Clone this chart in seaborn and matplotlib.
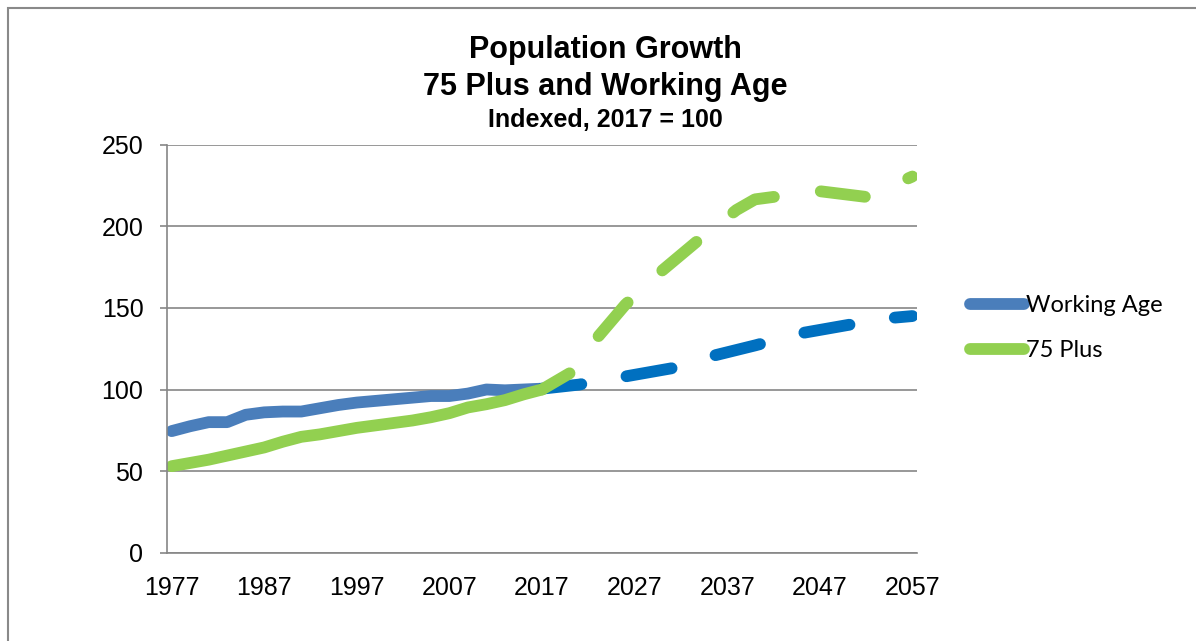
import matplotlib
matplotlib.use("Agg")
import matplotlib.pyplot as plt
import matplotlib.patches as patches
from matplotlib.lines import Line2D
import seaborn as sns

# Historic series (solid)
hist_years = [1977, 1979, 1981, 1983, 1985, 1987, 1989, 1991, 1993, 1995, 1997,
              1999, 2001, 2003, 2005, 2007, 2009, 2011, 2013, 2015, 2017]
working_hist = [74.5, 77.5, 80, 80, 84.5, 86, 86.5, 86.5, 88.5, 90.5, 92,
                93, 94, 95, 96, 96, 97.5, 100, 99.5, 100, 100.5]
plus75_hist = [53, 55, 57, 59.5, 62, 64.5, 68, 71, 72.5, 74.5, 76.5,
               78, 79.5, 81, 83, 85.5, 89, 91, 93.5, 97, 100]

# Projections (dashed)
working_proj_years = [2017, 2021, 2026, 2031, 2035, 2040, 2045, 2050, 2055, 2057]
working_proj = [100.5, 103, 108, 113, 120, 127, 134.5, 139.5, 144, 145]
plus75_proj_years = [2017, 2020, 2023, 2026, 2030, 2034, 2038, 2040, 2042, 2047, 2052, 2057]
plus75_proj = [100, 110, 132, 152, 173, 192, 210, 216.5, 218, 221.5, 218, 230.5]

x_labels = [1977, 1987, 1997, 2007, 2017, 2027, 2037, 2047, 2057]
y_ticks = [0, 50, 100, 150, 200, 250]

blue_hist = "#4A7EBB"
blue_proj = "#0070C0"
green = "#92D050"
grey = "#868686"

sns.set_style("white")
plt.rcParams["font.family"] = ["Liberation Sans", "DejaVu Sans"]
plt.rcParams["text.color"] = "black"
plt.rcParams["xtick.color"] = "black"
plt.rcParams["ytick.color"] = "black"
plt.rcParams["lines.scale_dashes"] = False

fig = plt.figure(figsize=(11.96, 6.41), dpi=100)
ax = fig.add_axes([167 / 1196, 1 - 552.7 / 641, 750 / 1196, 408 / 641])

lw = 8.5
common = dict(ax=ax, linewidth=lw, solid_capstyle="round", dash_capstyle="round",
              errorbar=None)
sns.lineplot(x=hist_years, y=working_hist, color=blue_hist, **common)
sns.lineplot(x=working_proj_years, y=working_proj, color=blue_proj,
             linestyle=(4.5, (33, 33)), **common)
sns.lineplot(x=hist_years, y=plus75_hist, color=green, **common)
sns.lineplot(x=plus75_proj_years, y=plus75_proj, color=green,
             linestyle=(9, (32, 34)), **common)

ax.set_xlim(1976.5, 2057.5)
ax.set_ylim(0, 250)
ax.set_xticks(x_labels)
ax.set_xticks([1976.5 + 5 * k for k in range(17)], minor=True)
ax.set_yticks(y_ticks)
ax.tick_params(axis="x", which="major", length=0, pad=17, labelsize=18)
ax.tick_params(axis="x", which="minor", length=6, width=1.2, color=grey, direction="out")
ax.tick_params(axis="y", length=5, width=1.2, color=grey, pad=12, labelsize=18, left=True)
ax.grid(axis="y", color=grey, linewidth=1.2)
ax.grid(axis="x", visible=False)
ax.set_axisbelow(True)
for side in ["top", "right"]:
    ax.spines[side].set_visible(False)
for side in ["left", "bottom"]:
    ax.spines[side].set_color(grey)
    ax.spines[side].set_linewidth(1.2)
ax.set_xlabel("")
ax.set_ylabel("")

# Title lines
fig.text(0.506, 1 - 58.3 / 641, "Population Growth", ha="center", va="baseline",
         fontsize=22, fontweight="bold")
fig.text(0.506, 1 - 95 / 641, "75 Plus and Working Age", ha="center", va="baseline",
         fontsize=22, fontweight="bold")
fig.text(0.506, 1 - 126.7 / 641, "Indexed, 2017 = 100", ha="center", va="baseline",
         fontsize=18, fontweight="bold")

# Legend
handles = [Line2D([], [], color=blue_hist, lw=lw, solid_capstyle="round"),
           Line2D([], [], color=green, lw=lw, solid_capstyle="round")]
fig.legend(handles, ["Working Age", "75 Plus"], loc="center left",
           bbox_to_anchor=(970 / 1196, 1 - 328 / 641), frameon=False,
           prop={"family": "Lato", "size": 17}, handlelength=2.3,
           handletextpad=0.08, labelspacing=1.0, borderaxespad=0, borderpad=0)

# Chart area border (only top and left edges visible in the crop)
fig.patches.append(patches.Rectangle((8 / 1196, -0.1), 1.2, 1 - 8 / 641 + 0.1,
                                     transform=fig.transFigure, fill=False,
                                     edgecolor="#898989", linewidth=1.5))

fig.savefig("out.png", dpi=100)
